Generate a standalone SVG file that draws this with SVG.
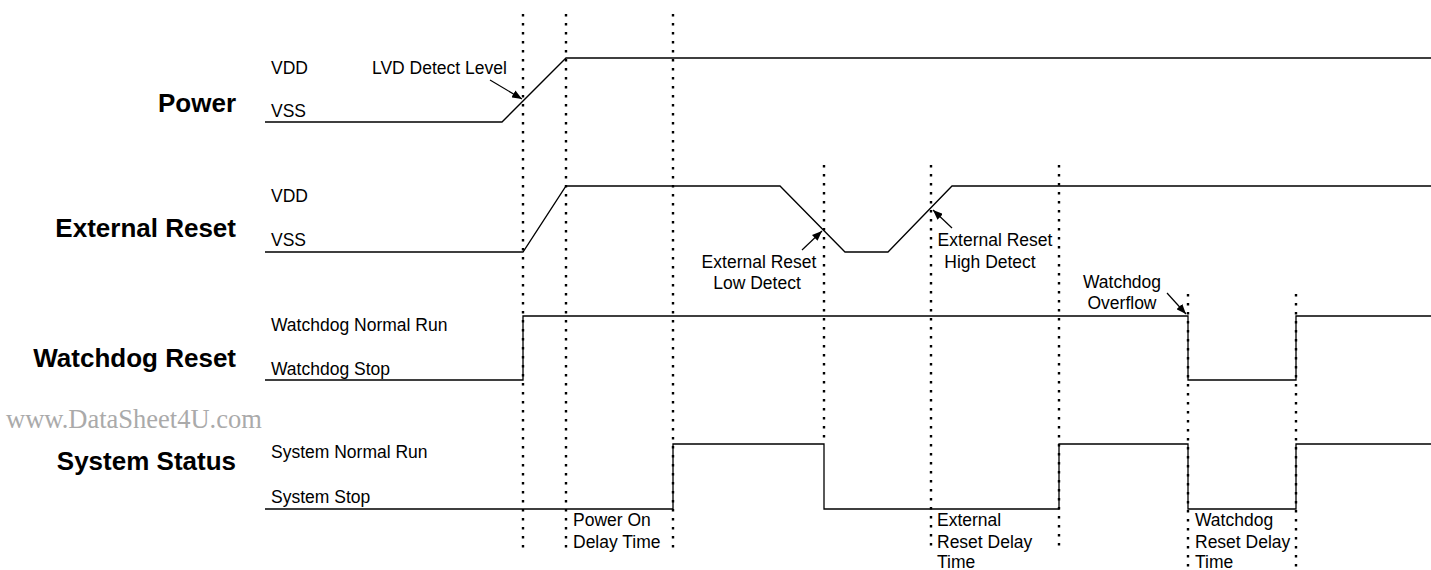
<svg xmlns="http://www.w3.org/2000/svg" width="1431" height="570" viewBox="0 0 1431 570">
<style>
.bg{fill:#fff}
.sig{fill:none;stroke:#000;stroke-width:1.3}
.dot{fill:none;stroke:#000;stroke-width:2.4;stroke-dasharray:2.4 6.6}
.arr{fill:none;stroke:#000;stroke-width:1.2}
.t{font-family:"Liberation Sans",Arial,sans-serif;font-size:17.5px;fill:#000}
.b{font-family:"Liberation Sans",Arial,sans-serif;font-size:26px;font-weight:bold;fill:#000;text-anchor:end}
.c{text-anchor:middle}
.wm{font-family:"Liberation Serif","Times New Roman",serif;font-size:26.5px;fill:#aaa}
</style>
<defs>
<marker id="ah" viewBox="0 0 10 8" refX="10" refY="4" markerWidth="10" markerHeight="8" markerUnits="userSpaceOnUse" orient="auto">
<path d="M0,0 L10,4 L0,8 z" fill="#000"/>
</marker>
</defs>
<rect class="bg" x="0" y="0" width="1431" height="570"/>

<g id="guides">
<line class="dot" x1="523" y1="14" x2="523" y2="552"/>
<line class="dot" x1="566" y1="14" x2="566" y2="552"/>
<line class="dot" x1="673" y1="14" x2="673" y2="552"/>
<line class="dot" x1="824" y1="165" x2="824" y2="440"/>
<line class="dot" x1="931" y1="165" x2="931" y2="552"/>
<line class="dot" x1="1059" y1="165" x2="1059" y2="552"/>
<line class="dot" x1="1188" y1="294" x2="1188" y2="570"/>
<line class="dot" x1="1296" y1="294" x2="1296" y2="570"/>
</g>

<g id="power">
<text class="b" x="236" y="112">Power</text>
<text class="t" x="271" y="74">VDD</text>
<text class="t" x="271" y="117">VSS</text>
<polyline class="sig" points="265,122 502,122 566,58 1431,58"/>
<text class="t" x="372" y="74">LVD Detect Level</text>
</g>

<g id="external-reset">
<text class="b" x="236" y="237">External Reset</text>
<text class="t" x="271" y="202">VDD</text>
<text class="t" x="271" y="246">VSS</text>
<polyline class="sig" points="265,252 523,252 566,186 780,186 845,252 888,252 952,186 1431,186"/>
<text class="t c" x="759" y="268">External Reset</text>
<text class="t c" x="757" y="289">Low Detect</text>
<text class="t c" x="995" y="246">External Reset</text>
<text class="t c" x="990" y="268">High Detect</text>
</g>

<g id="watchdog-reset">
<text class="b" x="236" y="367">Watchdog Reset</text>
<text class="t" x="271" y="331">Watchdog Normal Run</text>
<text class="t" x="271" y="375">Watchdog Stop</text>
<polyline class="sig" points="265,380 523,380 523,316 1188,316 1188,380 1296,380 1296,316 1431,316"/>
<text class="t c" x="1122" y="288">Watchdog</text>
<text class="t c" x="1122" y="309">Overflow</text>
</g>

<g id="system-status">
<text class="b" x="236" y="470">System Status</text>
<text class="t" x="271" y="458">System Normal Run</text>
<text class="t" x="271" y="503">System Stop</text>
<polyline class="sig" points="265,509 673,509 673,444 824,444 824,509 1059,509 1059,444 1188,444 1188,509 1296,509 1296,444 1431,444"/>
<text class="t" x="573" y="526">Power On</text>
<text class="t" x="573" y="548">Delay Time</text>
<text class="t" x="937" y="526">External</text>
<text class="t" x="937" y="548">Reset Delay</text>
<text class="t" x="937" y="568">Time</text>
<text class="t" x="1195" y="526">Watchdog</text>
<text class="t" x="1195" y="548">Reset Delay</text>
<text class="t" x="1195" y="568">Time</text>
</g>

<g id="connectors">
<line class="arr" x1="490" y1="80" x2="522" y2="99" marker-end="url(#ah)"/>
<line class="arr" x1="802" y1="250" x2="822" y2="231" marker-end="url(#ah)"/>
<line class="arr" x1="952" y1="228" x2="933" y2="210" marker-end="url(#ah)"/>
<line class="arr" x1="1167" y1="293" x2="1186" y2="314" marker-end="url(#ah)"/>
</g>

<text class="wm" x="6" y="428">www.DataSheet4U.com</text>
</svg>
